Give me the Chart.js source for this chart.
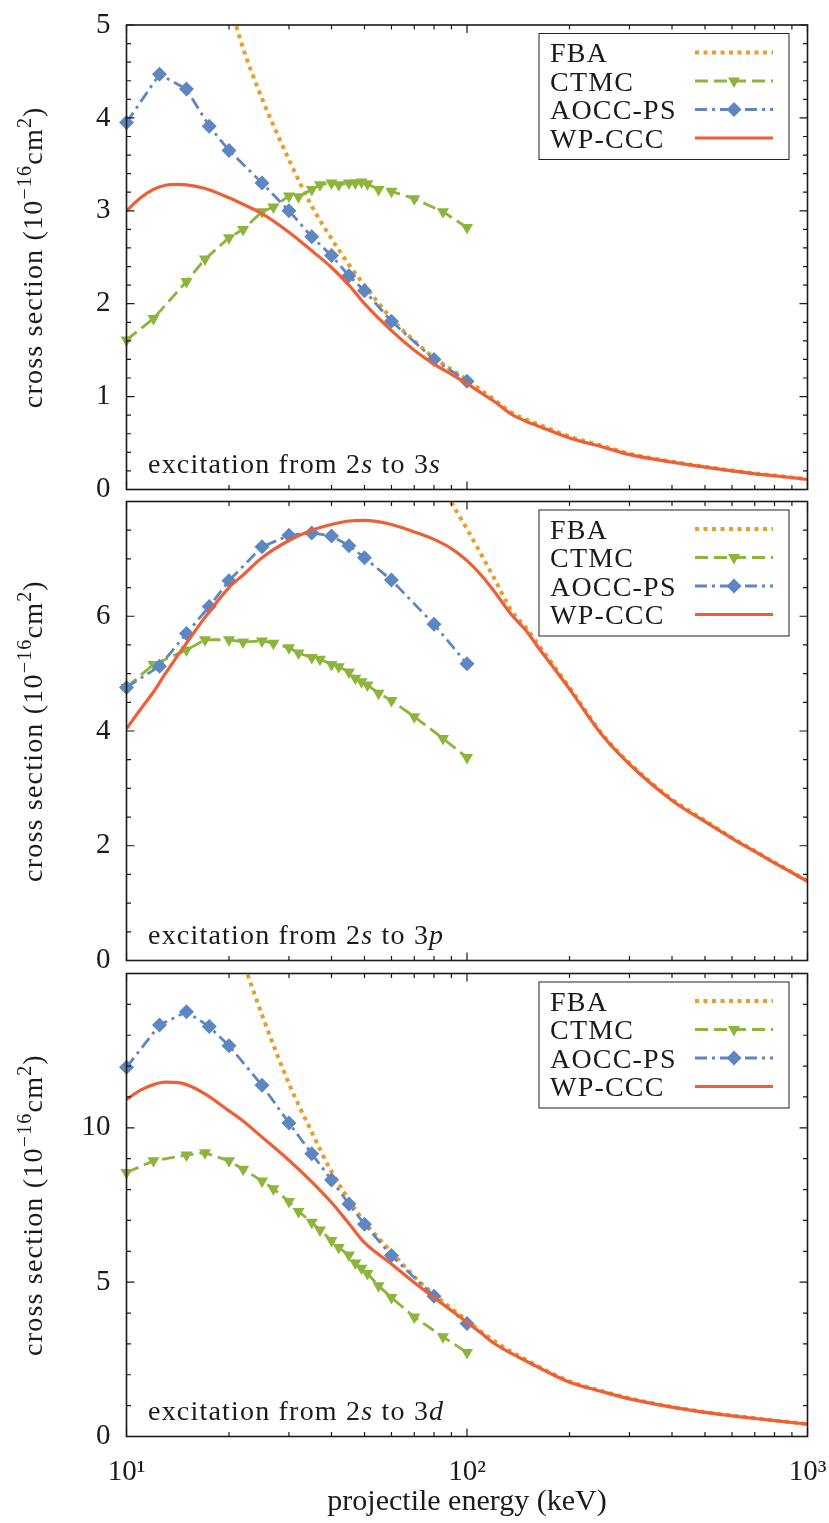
<!DOCTYPE html>
<html>
<head>
<meta charset="utf-8">
<script src="https://cdn.jsdelivr.net/npm/chart.js@4.4.1/dist/chart.umd.min.js"></script>
<style>
  body { margin: 0; background: #fff; }
  #wrap { position: relative; width: 829px; height: 1523px; }
  #wrap canvas { position: absolute; left: 0; }
</style>
</head>
<body>
<div id="wrap">
  <canvas id="c3s" width="829" height="500" style="top:0px"></canvas>
  <canvas id="c3p" width="829" height="474" style="top:494px"></canvas>
  <canvas id="c3d" width="829" height="557" style="top:966px"></canvas>
</div>
<script>
// projectile energies (keV)
const energyTicks = [10, 100, 1000];
const energyMinor = [20, 30, 40, 50, 60, 70, 80, 90, 200, 300, 400, 500, 600, 700, 800, 900];
const energyCurve = [10, 11, 12, 13, 14, 15, 17, 20, 22, 25, 30, 35, 40, 45, 50, 60, 70, 80, 90, 100,
                     110, 120, 135, 150, 160, 200, 250, 300, 400, 500, 600, 700, 800, 1000];
const energyFbaLow = [20, 22, 25, 30, 35, 40, 45, 50, 60, 70, 80, 90, 100, 110, 120, 135, 150, 160,
                      200, 250, 300, 400, 500, 600, 700, 800, 1000];
const energyFbaHigh = [80, 90, 100, 110, 120, 135, 150, 160, 200, 250, 300, 400, 500, 600, 700, 800, 1000];
const energyCtmc = [10, 12, 15, 17, 20, 22, 25, 27, 30, 32, 35, 37, 40, 42, 45, 47, 49, 51, 55, 60, 70, 85, 100];
const energyAocc = [10, 12.5, 15, 17.5, 20, 25, 30, 35, 40, 45, 50, 60, 80, 100];

// 2s -> 3s cross sections (1e-16 cm^2)
const wpccc3s = [3.00, 3.14, 3.23, 3.275, 3.285, 3.28, 3.24, 3.14, 3.07, 2.97, 2.77, 2.57, 2.39, 2.20, 2.00,
                 1.71, 1.50, 1.35, 1.24, 1.14, 1.04, 0.95, 0.81, 0.73, 0.69, 0.555, 0.458, 0.375, 0.295,
                 0.24, 0.20, 0.169, 0.148, 0.108];
const fba3s = [5.25, 4.75, 4.21, 3.55, 3.05, 2.70, 2.42, 2.20, 1.84, 1.60, 1.42, 1.29, 1.18, 1.07, 0.97,
               0.83, 0.75, 0.71, 0.57, 0.47, 0.385, 0.30, 0.245, 0.205, 0.173, 0.151, 0.111];
const ctmc3s = [1.61, 1.84, 2.24, 2.48, 2.71, 2.80, 2.99, 3.04, 3.16, 3.15, 3.23, 3.28, 3.30, 3.28, 3.30,
                3.30, 3.31, 3.29, 3.23, 3.21, 3.13, 2.99, 2.82];
const aocc3s = [3.95, 4.47, 4.31, 3.91, 3.65, 3.30, 3.00, 2.72, 2.52, 2.30, 2.14, 1.81, 1.40, 1.166];

// 2s -> 3p
const wpccc3p = [4.04, 4.38, 4.68, 5.00, 5.28, 5.53, 5.98, 6.50, 6.72, 7.02, 7.32, 7.50, 7.60, 7.66, 7.67,
                 7.60, 7.47, 7.34, 7.18, 6.97, 6.72, 6.44, 6.03, 5.73, 5.50, 4.73, 3.92, 3.42, 2.79,
                 2.42, 2.13, 1.90, 1.70, 1.38];
const fba3p = [8.50, 7.98, 7.52, 7.08, 6.67, 6.10, 5.78, 5.55, 4.76, 3.94, 3.44, 2.81, 2.44, 2.14, 1.91, 1.71, 1.39];
const ctmc3p = [4.76, 5.16, 5.41, 5.59, 5.59, 5.55, 5.57, 5.53, 5.45, 5.36, 5.28, 5.25, 5.16, 5.12, 5.03,
                4.92, 4.86, 4.80, 4.66, 4.53, 4.25, 3.87, 3.54];
const aocc3p = [4.76, 5.13, 5.70, 6.17, 6.62, 7.21, 7.41, 7.45, 7.40, 7.23, 7.02, 6.63, 5.86, 5.17];

// 2s -> 3d
const wpccc3d = [10.92, 11.22, 11.40, 11.48, 11.47, 11.40, 11.10, 10.55, 10.22, 9.70, 8.95, 8.25, 7.58, 6.90,
                 6.28, 5.59, 4.99, 4.50, 4.08, 3.70, 3.35, 3.02, 2.69, 2.43, 2.27, 1.76, 1.45, 1.22, 0.95,
                 0.78, 0.67, 0.585, 0.513, 0.40];
const fba3d = [16.8, 15.4, 13.66, 11.43, 9.86, 8.58, 7.67, 6.95, 5.98, 5.18, 4.60, 4.15, 3.75, 3.40, 3.10,
               2.74, 2.47, 2.30, 1.79, 1.47, 1.24, 0.96, 0.79, 0.68, 0.595, 0.52, 0.405];
const ctmc3d = [8.55, 8.93, 9.12, 9.19, 8.93, 8.66, 8.28, 8.03, 7.61, 7.29, 6.94, 6.69, 6.35, 6.12, 5.88,
                5.62, 5.45, 5.28, 4.88, 4.50, 3.87, 3.23, 2.72];
const aocc3d = [11.96, 13.33, 13.76, 13.28, 12.66, 11.38, 10.16, 9.16, 8.31, 7.53, 6.88, 5.86, 4.54, 3.66];

const FONT = '"Liberation Serif", "Times New Roman", serif';
const INK = '#1a1a1a';

// line styles, in legend order
const styles = {
  fba:   { label: 'FBA',     color: '#E69F2B', width: 4, dash: [4, 4.5] },
  ctmc:  { label: 'CTMC',    color: '#8DB53B', width: 2.8, dash: [13, 6], marker: 'triangle', rotation: 180, radius: 7 },
  aocc:  { label: 'AOCC-PS', color: '#5E87C2', width: 2.8, dash: [12, 5, 3, 5], marker: 'rectRot', rotation: 0, radius: 7.5 },
  wpccc: { label: 'WP-CCC',  color: '#EE5F37', width: 3.2, dash: [] },
};
const legendOrder = ['fba', 'ctmc', 'aocc', 'wpccc'];

const xy = (xs, ys) => xs.map((x, i) => ({ x: x, y: ys[i] }));

function drawRuns(ctx, runs, x, y) {
  runs.forEach(r => {
    ctx.font = r.font;
    ctx.fillText(r.text, x, y - (r.up || 0));
    x += ctx.measureText(r.text).width;
  });
}
function runsWidth(ctx, runs) {
  return runs.reduce((w, r) => { ctx.font = r.font; return w + ctx.measureText(r.text).width; }, 0);
}

// frame with inward mirrored ticks, legend, panel caption and y title
const panelDecor = {
  id: 'panelDecor',
  afterDraw(chart, args, o) {
    const { ctx, chartArea: a } = chart;
    const xs = chart.scales.x, ys = chart.scales.y;
    ctx.save();
    ctx.setLineDash([]);
    ctx.strokeStyle = INK;
    ctx.lineWidth = 1.2;
    ctx.beginPath();
    const xTick = (v, len) => {
      const px = xs.getPixelForValue(v);
      ctx.moveTo(px, a.bottom); ctx.lineTo(px, a.bottom - len);
      ctx.moveTo(px, a.top); ctx.lineTo(px, a.top + len);
    };
    energyTicks.forEach(v => xTick(v, 8));
    energyMinor.forEach(v => xTick(v, 4.5));
    const n = Math.round(ys.max / o.minor);
    for (let i = 0; i <= n; i++) {
      const v = i * o.minor;
      const py = ys.getPixelForValue(v);
      const len = Math.abs(v / o.step - Math.round(v / o.step)) < 1e-6 ? 8 : 4.5;
      ctx.moveTo(a.left, py); ctx.lineTo(a.left + len, py);
      ctx.moveTo(a.right, py); ctx.lineTo(a.right - len, py);
    }
    ctx.stroke();
    ctx.lineWidth = 1.6;
    ctx.strokeRect(a.left, a.top, a.right - a.left, a.bottom - a.top);

    const roman = '28px ' + FONT, italic = 'italic 28px ' + FONT, sup = '20px ' + FONT;
    ctx.fillStyle = INK;
    ctx.textAlign = 'left';
    ctx.textBaseline = 'alphabetic';
    ctx.letterSpacing = '1.2px';

    // caption
    drawRuns(ctx, [
      { text: 'excitation from 2', font: roman },
      { text: 's', font: italic },
      { text: ' to 3', font: roman },
      { text: o.final, font: italic },
    ], a.left + 21.5, a.bottom - 17);

    // legend
    const lx = a.right - 268.5, ly = a.top + 8.5;
    ctx.lineWidth = 1;
    ctx.strokeStyle = '#222';
    ctx.strokeRect(lx, ly, 250, 126);
    const rows = [19, 47.5, 76, 104.5];
    legendOrder.forEach((k, i) => {
      const s = styles[k];
      const cy = ly + rows[i];
      ctx.fillStyle = INK;
      ctx.font = roman;
      ctx.fillText(s.label, lx + 11, cy + 9.5);
      ctx.beginPath();
      ctx.setLineDash(s.dash);
      ctx.lineCap = 'butt';
      ctx.lineWidth = s.width;
      ctx.strokeStyle = s.color;
      ctx.moveTo(lx + 156, cy);
      ctx.lineTo(lx + 234, cy);
      ctx.stroke();
      if (s.marker) {
        ctx.setLineDash([]);
        ctx.fillStyle = s.color;
        Chart.helpers.drawPoint(ctx, { pointStyle: s.marker, rotation: s.rotation, radius: s.radius, borderWidth: 0 }, lx + 195, cy);
      }
    });

    // y title with superscripts
    const title = [
      { text: 'cross section (10', font: roman },
      { text: '\u221216', font: sup, up: 11 },
      { text: 'cm', font: roman },
      { text: '2', font: sup, up: 11 },
      { text: ')', font: roman },
    ];
    ctx.fillStyle = INK;
    ctx.translate(42, (a.top + a.bottom) / 2);
    ctx.rotate(-Math.PI / 2);
    drawRuns(ctx, title, -runsWidth(ctx, title) / 2, 0);
    ctx.restore();
  }
};

const panels = [
  { id: 'c3s', final: 's', max: 5, step: 1, minor: 0.2, topLabel: true, padTop: 25, padBottom: 10.5, axis: false,
    fbaE: energyFbaLow, fba: fba3s, ctmc: ctmc3s, aocc: aocc3s, wp: wpccc3s },
  { id: 'c3p', final: 'p', max: 8, step: 2, minor: 0.5, topLabel: false, padTop: 6, padBottom: 5.5, axis: false,
    fbaE: energyFbaHigh, fba: fba3p, ctmc: ctmc3p, aocc: aocc3p, wp: wpccc3p },
  { id: 'c3d', final: 'd', max: 15, step: 5, minor: 1, topLabel: false, padTop: 6.5, padBottom: 0, axis: true,
    fbaE: energyFbaLow, fba: fba3d, ctmc: ctmc3d, aocc: aocc3d, wp: wpccc3d },
];

const expLabels = { 10: '10\u00B9', 100: '10\u00B2', 1000: '10\u00B3' };
const markerClip = { left: 10, top: 0, right: 0, bottom: 0 };

panels.forEach(p => {
  new Chart(document.getElementById(p.id), {
    type: 'line',
    data: {
      datasets: [
        {
          label: styles.wpccc.label, data: xy(energyCurve, p.wp),
          borderColor: styles.wpccc.color, borderWidth: styles.wpccc.width,
          pointRadius: 0, cubicInterpolationMode: 'monotone',
        },
        {
          label: styles.aocc.label, data: xy(energyAocc, p.aocc),
          borderColor: styles.aocc.color, borderWidth: styles.aocc.width, borderDash: styles.aocc.dash,
          pointStyle: 'rectRot', pointRadius: styles.aocc.radius, pointBorderWidth: 0,
          pointBackgroundColor: styles.aocc.color, tension: 0, clip: markerClip,
        },
        {
          label: styles.ctmc.label, data: xy(energyCtmc, p.ctmc),
          borderColor: styles.ctmc.color, borderWidth: styles.ctmc.width, borderDash: styles.ctmc.dash,
          pointStyle: 'triangle', pointRotation: 180, pointRadius: styles.ctmc.radius, pointBorderWidth: 0,
          pointBackgroundColor: styles.ctmc.color, tension: 0, clip: markerClip,
        },
        {
          label: styles.fba.label, data: xy(p.fbaE, p.fba),
          borderColor: styles.fba.color, borderWidth: styles.fba.width, borderDash: styles.fba.dash,
          borderCapStyle: 'butt', pointRadius: 0, cubicInterpolationMode: 'monotone',
        },
      ],
    },
    options: {
      responsive: false,
      animation: false,
      events: [],
      layout: { padding: { left: 0, right: 21.5, top: p.padTop, bottom: p.padBottom } },
      scales: {
        x: {
          type: 'logarithmic', min: 10, max: 1000, display: p.axis,
          grid: { display: false, drawTicks: false }, border: { display: false },
          afterBuildTicks: s => { s.ticks = energyTicks.map(v => ({ value: v })); },
          afterFit: s => { s.height = p.axis ? 86.5 : 0; s.paddingLeft = 0; s.paddingRight = 0; },
          ticks: {
            autoSkip: false, maxRotation: 0, padding: 18, color: INK,
            font: { family: FONT, size: 29 },
            callback: v => expLabels[v] || '',
          },
          title: {
            display: true, text: 'projectile energy (keV)', color: INK,
            font: { family: FONT, size: 30 }, padding: { top: 0, bottom: 3 },
          },
        },
        y: {
          min: 0, max: p.max,
          grid: { display: false, drawTicks: false }, border: { display: false },
          afterFit: s => { s.width = 126.5; s.paddingTop = 0; s.paddingBottom = 0; },
          ticks: {
            stepSize: p.step, autoSkip: false, padding: 16, color: INK,
            font: { family: FONT, size: 29 },
            callback: v => (v === p.max && !p.topLabel) ? '' : v,
          },
        },
      },
      plugins: {
        legend: { display: false },
        tooltip: { enabled: false },
        panelDecor: { minor: p.minor, step: p.step, final: p.final },
      },
    },
    plugins: [panelDecor],
  });
});
</script>
</body>
</html>
